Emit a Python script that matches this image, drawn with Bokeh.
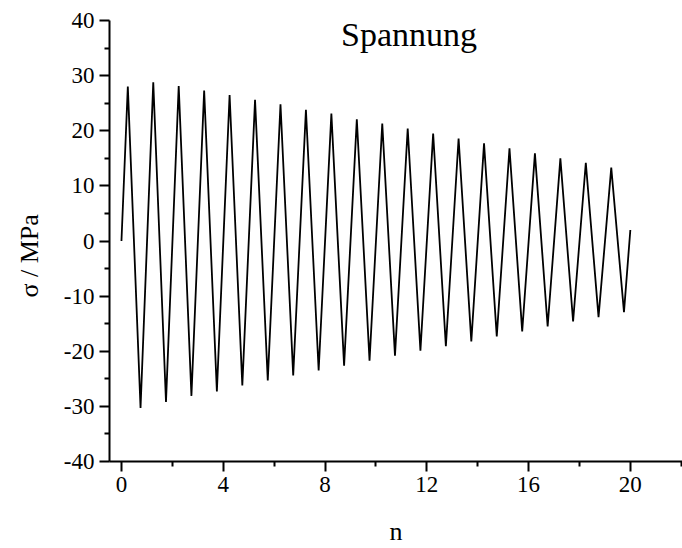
from bokeh.plotting import figure
from bokeh.models import FixedTicker, Label, Range1d, CustomJSTickFormatter, Title
from bokeh.embed import file_html
from bokeh.resources import INLINE

# cycle number n and stress sigma (MPa)
n = [0, 0.25, 0.75, 1.25, 1.75, 2.25, 2.75, 3.25, 3.75, 4.25, 4.75,
     5.25, 5.75, 6.25, 6.75, 7.25, 7.75, 8.25, 8.75, 9.25, 9.75,
     10.25, 10.75, 11.25, 11.75, 12.25, 12.75, 13.25, 13.75, 14.25, 14.75,
     15.25, 15.75, 16.25, 16.75, 17.25, 17.75, 18.25, 18.75, 19.25, 19.75, 20]
sigma = [0, 28.0, -30.3, 28.8, -29.2, 28.1, -28.1, 27.3, -27.3, 26.5, -26.2,
         25.6, -25.3, 24.8, -24.4, 23.8, -23.5, 23.1, -22.6, 22.1, -21.7,
         21.3, -20.8, 20.4, -19.9, 19.5, -19.1, 18.6, -18.2, 17.7, -17.3,
         16.8, -16.4, 15.9, -15.5, 15.0, -14.6, 14.2, -13.8, 13.3, -12.9, 2.0]

x_major = [0, 4, 8, 12, 16, 20]
x_minor = [2, 6, 10, 14, 18, 22]
y_major = [-40, -30, -20, -10, 0, 10, 20, 30, 40]
y_minor = [-35, -25, -15, -5, 5, 15, 25, 35]

title_text = "Spannung"
x_label = "n"
y_label = "σ / MPa"

FONT = "'Liberation Serif', 'Times New Roman', serif"

p = figure(width=682, height=548, output_backend="svg", toolbar_location=None,
           x_range=Range1d(-0.47, 22.05), y_range=Range1d(-40, 40),
           min_border_left=109, min_border_right=0, min_border_top=20,
           min_border_bottom=87)
p.outline_line_color = None
p.xgrid.visible = False
p.ygrid.visible = False
p.background_fill_color = "white"
p.border_fill_color = "white"

p.line(n, sigma, line_color="black", line_width=1.8)

p.xaxis.ticker = FixedTicker(ticks=x_major, minor_ticks=x_minor)
p.yaxis.ticker = FixedTicker(ticks=y_major, minor_ticks=y_minor)

fmt = "return String(tick);"
for ax in (p.xaxis[0], p.yaxis[0]):
    ax.formatter = CustomJSTickFormatter(code=fmt)
    ax.axis_line_width = 2
    ax.axis_line_color = "black"
    ax.major_tick_line_width = 2
    ax.minor_tick_line_width = 2
    ax.major_tick_line_color = "black"
    ax.minor_tick_line_color = "black"
    ax.major_tick_in = 0
    ax.major_tick_out = 10
    ax.minor_tick_in = 0
    ax.minor_tick_out = 5
    ax.major_label_text_font = FONT
    ax.major_label_text_font_size = "23px"
    ax.major_label_text_color = "black"
    ax.major_label_standoff = 5

xa = p.xaxis[0]
xa.axis_label = x_label
xa.axis_label_text_font = FONT
xa.axis_label_text_font_size = "26px"
xa.axis_label_text_font_style = "normal"
xa.axis_label_text_color = "black"
xa.axis_label_standoff = 22

p.add_layout(Title(text=y_label, align="left", offset=164, standoff=29,
                   vertical_align="top",
                   text_font=FONT, text_font_size="26px",
                   text_font_style="normal", text_color="black"), "left")

p.add_layout(Label(x=11.3, y=37.5, text=title_text, text_font=FONT,
                   text_font_size="34px", text_align="center",
                   text_baseline="alphabetic", text_color="black"))

open("out.html", "w").write(file_html(p, INLINE))
